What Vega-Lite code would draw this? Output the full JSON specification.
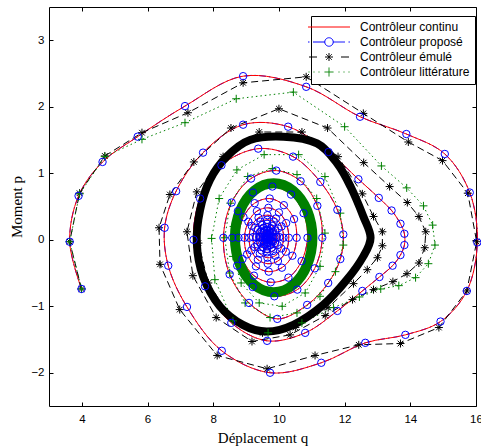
{
  "$schema": "https://vega.github.io/schema/vega-lite/v6.json",
  "width": 427,
  "height": 399,
  "autosize": "none",
  "padding": {"left": 49, "top": 7, "right": 5, "bottom": 41},
  "background": "white",
  "config": {
    "view": {"stroke": "black", "strokeWidth": 1},
    "axis": {"grid": false, "domain": false, "tickColor": "black", "tickWidth": 1, "tickSize": -4, "labelColor": "black", "labelFont": "Liberation Sans", "labelFontSize": 11.5, "titleFont": "Liberation Serif", "titleFontSize": 15, "titleFontWeight": "normal", "titleColor": "black", "labelFlush": false, "labelOverlap": false}
  },
  "datasets": {
    "cp": [
      {"t":1,"q":3.99,"p":-0.74},{"t":2,"q":3.63,"p":-0.03},{"t":3,"q":3.90,"p":0.66},{"t":4,"q":4.63,"p":1.17},{"t":5,"q":5.70,"p":1.55},{"t":6,"q":7.14,"p":2.01},{"t":7,"q":8.91,"p":2.46},{"t":8,"q":10.83,"p":2.30},{"t":9,"q":12.47,"p":1.85},{"t":10,"q":13.88,"p":1.59},
      {"t":11,"q":15.05,"p":1.29},{"t":12,"q":15.81,"p":0.71},{"t":13,"q":16.04,"p":-0.04},{"t":14,"q":15.72,"p":-0.77},{"t":15,"q":14.92,"p":-1.23},{"t":16,"q":13.85,"p":-1.43},{"t":17,"q":12.63,"p":-1.55},{"t":18,"q":11.29,"p":-1.85},{"t":19,"q":9.73,"p":-2.00},{"t":20,"q":8.26,"p":-1.67},
      {"t":21,"q":7.20,"p":-1.01},{"t":22,"q":6.63,"p":-0.39},{"t":23,"q":6.52,"p":0.18},{"t":24,"q":6.87,"p":0.73},{"t":25,"q":7.69,"p":1.31},{"t":26,"q":8.91,"p":1.73},{"t":27,"q":10.28,"p":1.70},{"t":28,"q":11.51,"p":1.32},{"t":29,"q":12.42,"p":0.91},{"t":30,"q":13.04,"p":0.63},
      {"t":31,"q":13.43,"p":0.44},{"t":32,"q":13.70,"p":0.24},{"t":33,"q":13.82,"p":0.09},{"t":34,"q":13.82,"p":-0.08},{"t":35,"q":13.70,"p":-0.23},{"t":36,"q":13.46,"p":-0.39},{"t":37,"q":13.06,"p":-0.56},{"t":38,"q":12.54,"p":-0.77},{"t":39,"q":11.78,"p":-1.07},{"t":40,"q":10.80,"p":-1.40},
      {"t":41,"q":9.64,"p":-1.52},{"t":42,"q":8.55,"p":-1.25},{"t":43,"q":7.75,"p":-0.70},{"t":44,"q":7.40,"p":0.00},{"t":45,"q":7.60,"p":0.62},{"t":46,"q":8.25,"p":1.12},{"t":47,"q":9.37,"p":1.37},{"t":48,"q":10.43,"p":1.25},{"t":49,"q":11.26,"p":0.87},{"t":50,"q":11.78,"p":0.45},
      {"t":51,"q":11.96,"p":0.08},{"t":52,"q":11.87,"p":-0.29},{"t":53,"q":11.50,"p":-0.65},{"t":54,"q":10.86,"p":-0.98},{"t":55,"q":9.95,"p":-1.19},{"t":56,"q":9.09,"p":-0.95},{"t":57,"q":8.50,"p":-0.52},{"t":58,"q":8.31,"p":0.03},{"t":59,"q":8.56,"p":0.56},{"t":60,"q":9.15,"p":0.92},
      {"t":61,"q":9.92,"p":1.04},{"t":62,"q":10.66,"p":0.88},{"t":63,"q":11.17,"p":0.51},{"t":64,"q":11.32,"p":0.03},{"t":65,"q":11.09,"p":-0.43},{"t":66,"q":10.56,"p":-0.75},{"t":67,"q":9.86,"p":-0.85},{"t":68,"q":9.20,"p":-0.71},{"t":69,"q":8.73,"p":-0.39},{"t":70,"q":8.58,"p":0.03},
      {"t":71,"q":8.75,"p":0.43},{"t":72,"q":9.21,"p":0.71},{"t":73,"q":9.80,"p":0.80},{"t":74,"q":10.37,"p":0.68},{"t":75,"q":10.75,"p":0.40},{"t":76,"q":10.87,"p":0.03},{"t":77,"q":10.69,"p":-0.32},{"t":78,"q":10.29,"p":-0.57},{"t":79,"q":9.75,"p":-0.64},{"t":80,"q":9.24,"p":-0.54},
      {"t":81,"q":8.89,"p":-0.29},{"t":82,"q":8.77,"p":0.03},{"t":83,"q":8.92,"p":0.34},{"t":84,"q":9.26,"p":0.55},{"t":85,"q":9.72,"p":0.62},{"t":86,"q":10.15,"p":0.52},{"t":87,"q":10.46,"p":0.31},{"t":88,"q":10.54,"p":0.03},{"t":89,"q":10.41,"p":-0.24},{"t":90,"q":10.09,"p":-0.42},
      {"t":91,"q":9.69,"p":-0.48},{"t":92,"q":9.30,"p":-0.40},{"t":93,"q":9.03,"p":-0.22},{"t":94,"q":8.95,"p":0.03},{"t":95,"q":9.07,"p":0.27},{"t":96,"q":9.33,"p":0.43},{"t":97,"q":9.68,"p":0.48},{"t":98,"q":10.00,"p":0.41},{"t":99,"q":10.22,"p":0.25},{"t":100,"q":10.30,"p":0.03},
      {"t":101,"q":10.21,"p":-0.18},{"t":102,"q":9.97,"p":-0.32},{"t":103,"q":9.66,"p":-0.36},{"t":104,"q":9.36,"p":-0.30},{"t":105,"q":9.16,"p":-0.16},{"t":106,"q":9.09,"p":0.03},{"t":107,"q":9.17,"p":0.21},{"t":108,"q":9.38,"p":0.33},{"t":109,"q":9.65,"p":0.37},{"t":110,"q":9.91,"p":0.32},
      {"t":111,"q":10.08,"p":0.20},{"t":112,"q":10.14,"p":0.03},{"t":113,"q":10.07,"p":-0.13},{"t":114,"q":9.89,"p":-0.24},{"t":115,"q":9.65,"p":-0.27},{"t":116,"q":9.42,"p":-0.21},{"t":117,"q":9.26,"p":-0.11},{"t":118,"q":9.21,"p":0.04},{"t":119,"q":9.28,"p":0.18},{"t":120,"q":9.44,"p":0.27},
      {"t":121,"q":9.64,"p":0.30},{"t":122,"q":9.84,"p":0.27},{"t":123,"q":9.97,"p":0.17},{"t":124,"q":10.01,"p":0.04},{"t":125,"q":9.96,"p":-0.08},{"t":126,"q":9.82,"p":-0.17},{"t":127,"q":9.64,"p":-0.19},{"t":128,"q":9.47,"p":-0.16},{"t":129,"q":9.35,"p":-0.07},{"t":130,"q":9.31,"p":0.04},
      {"t":131,"q":9.36,"p":0.15},{"t":132,"q":9.49,"p":0.22},{"t":133,"q":9.64,"p":0.24},{"t":134,"q":9.79,"p":0.21},{"t":135,"q":9.89,"p":0.14},{"t":136,"q":9.93,"p":0.04},{"t":137,"q":9.88,"p":-0.05},{"t":138,"q":9.78,"p":-0.12},{"t":139,"q":9.64,"p":-0.14},{"t":140,"q":9.51,"p":-0.11},
      {"t":141,"q":9.42,"p":-0.04},{"t":142,"q":9.40,"p":0.04},{"t":143,"q":9.43,"p":0.12},{"t":144,"q":9.53,"p":0.18},{"t":145,"q":9.64,"p":0.19},{"t":146,"q":9.75,"p":0.17},{"t":147,"q":9.83,"p":0.12},{"t":148,"q":9.86,"p":0.04},{"t":149,"q":9.82,"p":-0.03},{"t":150,"q":9.74,"p":-0.08},
      {"t":151,"q":9.64,"p":-0.10},{"t":152,"q":9.54,"p":-0.07},{"t":153,"q":9.47,"p":-0.02},{"t":154,"q":9.45,"p":0.04},{"t":155,"q":9.48,"p":0.10},{"t":156,"q":9.55,"p":0.14},{"t":157,"q":9.64,"p":0.15},{"t":158,"q":9.72,"p":0.13},{"t":159,"q":9.78,"p":0.10},{"t":160,"q":9.80,"p":0.04},
      {"t":161,"q":9.77,"p":-0.01},{"t":162,"q":9.71,"p":-0.05},{"t":163,"q":9.64,"p":-0.06},{"t":164,"q":9.57,"p":-0.04},{"t":165,"q":9.51,"p":0.04},{"t":166,"q":9.56,"p":0.11},{"t":167,"q":9.64,"p":0.13},{"t":168,"q":9.72,"p":0.10},{"t":169,"q":9.75,"p":0.04},{"t":170,"q":9.71,"p":-0.01},
      {"t":171,"q":9.64,"p":-0.03},{"t":172,"q":9.58,"p":0.01},{"t":173,"q":9.57,"p":0.06},{"t":174,"q":9.64,"p":0.10},{"t":175,"q":9.70,"p":0.07},{"t":176,"q":9.69,"p":0.02},{"t":177,"q":9.64,"p":0.00},{"t":178,"q":9.62,"p":0.03},{"t":179,"q":9.65,"p":0.05},{"t":180,"q":9.64,"p":0.04}
    ],
    "em": [
      {"t":1,"q":3.99,"p":-0.74},{"t":2,"q":3.63,"p":-0.03},{"t":3,"q":3.93,"p":0.70},{"t":4,"q":4.70,"p":1.26},{"t":5,"q":5.83,"p":1.61},{"t":6,"q":7.23,"p":1.91},{"t":7,"q":8.91,"p":2.36},{"t":8,"q":10.83,"p":2.45},{"t":9,"q":12.57,"p":1.90},{"t":10,"q":13.94,"p":1.47},
      {"t":11,"q":14.98,"p":1.19},{"t":12,"q":15.75,"p":0.70},{"t":13,"q":16.02,"p":-0.03},{"t":14,"q":15.72,"p":-0.77},{"t":15,"q":14.87,"p":-1.32},{"t":16,"q":13.70,"p":-1.56},{"t":17,"q":12.43,"p":-1.58},{"t":18,"q":11.10,"p":-1.74},{"t":19,"q":9.64,"p":-1.94},{"t":20,"q":8.12,"p":-1.74},
      {"t":21,"q":6.98,"p":-1.05},{"t":22,"q":6.38,"p":-0.37},{"t":23,"q":6.35,"p":0.18},{"t":24,"q":6.68,"p":0.68},{"t":25,"q":7.41,"p":1.17},{"t":26,"q":8.54,"p":1.68},{"t":27,"q":10.00,"p":1.97},{"t":28,"q":11.48,"p":1.68},{"t":29,"q":12.58,"p":1.16},{"t":30,"q":13.37,"p":0.80},
      {"t":31,"q":13.91,"p":0.56},{"t":32,"q":14.26,"p":0.35},{"t":33,"q":14.47,"p":0.12},{"t":34,"q":14.44,"p":-0.12},{"t":35,"q":14.26,"p":-0.35},{"t":36,"q":13.90,"p":-0.51},{"t":37,"q":13.47,"p":-0.63},{"t":38,"q":12.88,"p":-0.75},{"t":39,"q":12.24,"p":-0.90},{"t":40,"q":11.41,"p":-1.14},
      {"t":41,"q":10.34,"p":-1.43},{"t":42,"q":9.18,"p":-1.53},{"t":43,"q":8.09,"p":-1.17},{"t":44,"q":7.38,"p":-0.54},{"t":45,"q":7.20,"p":0.12},{"t":46,"q":7.50,"p":0.72},{"t":47,"q":8.30,"p":1.25},{"t":48,"q":9.40,"p":1.62},{"t":49,"q":10.70,"p":1.62},{"t":50,"q":11.80,"p":1.25},
      {"t":51,"q":12.54,"p":0.69},{"t":52,"q":12.88,"p":0.35},{"t":53,"q":13.15,"p":0.12},{"t":54,"q":13.15,"p":-0.09},{"t":55,"q":13.00,"p":-0.27},{"t":56,"q":12.69,"p":-0.45},{"t":57,"q":12.27,"p":-0.66},{"t":58,"q":11.50,"p":-1.02},{"t":59,"q":10.50,"p":-1.32},{"t":60,"q":9.50,"p":-1.40},
      {"t":61,"q":8.55,"p":-1.18},{"t":62,"q":7.85,"p":-0.65},{"t":63,"q":7.55,"p":-0.05}
    ],
    "li": [
      {"t":1,"q":3.99,"p":-0.74},{"t":2,"q":3.63,"p":-0.03},{"t":3,"q":3.93,"p":0.69},{"t":4,"q":4.70,"p":1.25},{"t":5,"q":5.83,"p":1.51},{"t":6,"q":7.14,"p":1.76},{"t":7,"q":8.70,"p":2.12},{"t":8,"q":10.44,"p":2.22},{"t":9,"q":12.00,"p":1.70},{"t":10,"q":13.12,"p":1.11},
      {"t":11,"q":13.89,"p":0.78},{"t":12,"q":14.40,"p":0.51},{"t":13,"q":14.68,"p":0.22},{"t":14,"q":14.75,"p":-0.08},{"t":15,"q":14.55,"p":-0.36},{"t":16,"q":14.16,"p":-0.57},{"t":17,"q":13.65,"p":-0.69},{"t":18,"q":13.10,"p":-0.74},{"t":19,"q":12.45,"p":-0.86},{"t":20,"q":11.66,"p":-1.02},
      {"t":21,"q":10.70,"p":-1.25},{"t":22,"q":9.67,"p":-1.40},{"t":23,"q":8.60,"p":-1.22},{"t":24,"q":8.05,"p":-0.60},{"t":25,"q":7.95,"p":0.02},{"t":26,"q":8.18,"p":0.62},{"t":27,"q":8.72,"p":1.05},{"t":28,"q":9.55,"p":1.28},{"t":29,"q":10.60,"p":1.28},{"t":30,"q":11.40,"p":0.95},
      {"t":31,"q":11.87,"p":0.40},{"t":32,"q":11.96,"p":-0.08},{"t":33,"q":11.72,"p":-0.48},{"t":34,"q":11.25,"p":-0.85},{"t":35,"q":10.55,"p":-1.10},{"t":36,"q":9.73,"p":-1.17},{"t":37,"q":8.97,"p":-0.95},{"t":38,"q":8.50,"p":-0.50},{"t":39,"q":8.35,"p":0.03},{"t":40,"q":8.52,"p":0.55},
      {"t":41,"q":9.05,"p":0.95},{"t":42,"q":9.80,"p":1.07},{"t":43,"q":10.55,"p":0.98},{"t":44,"q":11.15,"p":0.62},{"t":45,"q":11.40,"p":0.10},{"t":46,"q":11.25,"p":-0.40},{"t":47,"q":10.80,"p":-0.80},{"t":48,"q":10.10,"p":-1.00},{"t":49,"q":9.40,"p":-0.95},{"t":50,"q":8.85,"p":-0.65},
      {"t":51,"q":8.60,"p":-0.25},{"t":52,"q":8.62,"p":0.20}
    ],
    "ringE": [
      {"t":1,"q":10.14,"p":1.55},{"t":2,"q":11.16,"p":1.45},{"t":3,"q":11.77,"p":1.15},{"t":4,"q":12.18,"p":0.80},{"t":5,"q":12.57,"p":0.35},{"t":6,"q":12.79,"p":0.03},{"t":7,"q":12.57,"p":-0.25},{"t":8,"q":12.07,"p":-0.60},{"t":9,"q":11.35,"p":-0.98},{"t":10,"q":10.44,"p":-1.28},
      {"t":11,"q":9.63,"p":-1.38},{"t":12,"q":8.90,"p":-1.28},{"t":13,"q":8.20,"p":-1.00},{"t":14,"q":7.69,"p":-0.55},{"t":15,"q":7.50,"p":-0.05},{"t":16,"q":7.60,"p":0.45},{"t":17,"q":7.90,"p":0.90},{"t":18,"q":8.41,"p":1.25},{"t":19,"q":9.12,"p":1.50}
    ],
    "ringL": [
      {"t":1,"q":9.84,"p":0.85},{"t":2,"q":10.43,"p":0.74},{"t":3,"q":10.86,"p":0.44},{"t":4,"q":11.02,"p":0.03},{"t":5,"q":10.86,"p":-0.38},{"t":6,"q":10.43,"p":-0.68},{"t":7,"q":9.84,"p":-0.79},{"t":8,"q":9.25,"p":-0.68},{"t":9,"q":8.82,"p":-0.38},{"t":10,"q":8.66,"p":0.03},
      {"t":11,"q":8.82,"p":0.44},{"t":12,"q":9.25,"p":0.74}
    ]
  },
  "resolve": {"axis": {"x": "independent", "y": "independent"}},
  "layer": [
    {
      "data": {"name": "cp"},
      "mark": {"type": "line", "interpolate": "catmull-rom", "strokeWidth": 1, "strokeDash": [7, 3, 1.5, 3]},
      "encoding": {
        "x": {"field": "q", "type": "quantitative", "scale": {"domain": [3, 16], "nice": false, "zero": false},
              "axis": {"orient": "bottom", "values": [4, 6, 8, 10, 12, 14, 16], "title": "Déplacement q", "labelPadding": 11, "titleY": 36, "titleBaseline": "alphabetic"}},
        "y": {"field": "p", "type": "quantitative", "scale": {"domain": [-2.5, 3.5], "nice": false, "zero": false},
              "axis": {"orient": "left", "values": [-2, -1, 0, 1, 2, 3], "title": "Moment p", "labelPadding": 9, "titleX": -28, "titleBaseline": "alphabetic"}},
        "order": {"field": "t", "type": "quantitative"},
        "color": {"datum": "Contrôleur proposé", "type": "nominal",
          "scale": {"domain": ["Contrôleur continu", "Contrôleur proposé", "Contrôleur émulé", "Contrôleur littérature"], "range": ["#ff0000", "#0000ff", "#000000", "#008000"]},
          "legend": {
            "title": null, "orient": "none", "legendX": 262, "legendY": 9, "padding": 5, "rowPadding": 2,
            "strokeColor": "black", "fillColor": "white", "cornerRadius": 0,
            "labelFont": "Liberation Sans", "labelFontSize": 12, "labelColor": "black", "labelLimit": 300,
            "symbolSize": 100, "symbolStrokeWidth": 1, "symbolOffset": 7, "labelOffset": 25, "symbolDash": [1, 0],
            "encode": {"symbols": {"update": {
              "fill": {"value": "transparent"},
              "strokeDash": {"value": [1, 0]},
              "shape": {"signal": "datum.value === 'Contrôleur continu' ? 'M-4.2,0L4.2,0' : datum.value === 'Contrôleur proposé' ? 'M-4.2,0L-3.9,0M-3.2,0L-0.85,0M0.85,0L3.2,0M3.9,0L4.2,0M-0.85,0A0.85,0.85,0,1,0,0.85,0A0.85,0.85,0,1,0,-0.85,0' : datum.value === 'Contrôleur émulé' ? 'M-4,0L-2.4,0M2.4,0L4,0M-0.8,0L0.8,0M0,-0.8L0,0.8M-0.57,-0.57L0.57,0.57M-0.57,0.57L0.57,-0.57' : 'M-4.1,0L-3.9,0M-3.1,0L-2.9,0M-2.1,0L-1.9,0M1.9,0L2.1,0M2.9,0L3.1,0M3.9,0L4.1,0M-0.9,0L0.9,0M0,-0.9L0,0.9'"}
            }}}
          }}
      }
    },
    {
      "data": {"name": "cp"},
      "mark": {"type": "line", "interpolate": "catmull-rom", "strokeWidth": 1},
      "encoding": {
        "x": {"field": "q", "type": "quantitative", "scale": {"domain": [3, 16], "nice": false, "zero": false},
              "axis": {"orient": "top", "values": [4, 6, 8, 10, 12, 14, 16], "labels": false, "title": null}},
        "y": {"field": "p", "type": "quantitative", "scale": {"domain": [-2.5, 3.5], "nice": false, "zero": false},
              "axis": {"orient": "right", "values": [-2, -1, 0, 1, 2, 3], "labels": false, "title": null}},
        "order": {"field": "t", "type": "quantitative"},
        "color": {"datum": "Contrôleur continu", "type": "nominal"}
      }
    },
    {
      "data": {"name": "em"},
      "mark": {"type": "line", "interpolate": "linear", "strokeWidth": 1, "strokeDash": [7, 4]},
      "encoding": {
        "x": {"field": "q", "type": "quantitative", "axis": null},
        "y": {"field": "p", "type": "quantitative", "axis": null},
        "order": {"field": "t", "type": "quantitative"},
        "color": {"datum": "Contrôleur émulé", "type": "nominal"}
      }
    },
    {
      "data": {"name": "li"},
      "mark": {"type": "line", "interpolate": "linear", "strokeWidth": 1, "strokeDash": [1.5, 3]},
      "encoding": {
        "x": {"field": "q", "type": "quantitative", "axis": null},
        "y": {"field": "p", "type": "quantitative", "axis": null},
        "order": {"field": "t", "type": "quantitative"},
        "color": {"datum": "Contrôleur littérature", "type": "nominal"}
      }
    },
    {
      "data": {"name": "ringE"},
      "mark": {"type": "line", "interpolate": "cardinal-closed", "strokeWidth": 8, "color": "#000000"},
      "encoding": {
        "x": {"field": "q", "type": "quantitative", "axis": null},
        "y": {"field": "p", "type": "quantitative", "axis": null},
        "order": {"field": "t", "type": "quantitative"}
      }
    },
    {
      "data": {"name": "ringL"},
      "mark": {"type": "line", "interpolate": "cardinal-closed", "strokeWidth": 10, "color": "#008000"},
      "encoding": {
        "x": {"field": "q", "type": "quantitative", "axis": null},
        "y": {"field": "p", "type": "quantitative", "axis": null},
        "order": {"field": "t", "type": "quantitative"}
      }
    },
    {
      "data": {"name": "em"},
      "mark": {"type": "point", "shape": "M-1,0L1,0M0,-1L0,1M-0.7,-0.7L0.7,0.7M-0.7,0.7L0.7,-0.7", "filled": false, "stroke": "#000000", "strokeWidth": 1, "size": 64, "opacity": 1},
      "encoding": {
        "x": {"field": "q", "type": "quantitative", "axis": null},
        "y": {"field": "p", "type": "quantitative", "axis": null}
      }
    },
    {
      "data": {"name": "li"},
      "mark": {"type": "point", "shape": "M-1,0L1,0M0,-1L0,1", "filled": false, "stroke": "#008000", "strokeWidth": 1, "size": 64, "opacity": 1},
      "encoding": {
        "x": {"field": "q", "type": "quantitative", "axis": null},
        "y": {"field": "p", "type": "quantitative", "axis": null}
      }
    },
    {
      "data": {"name": "cp"},
      "mark": {"type": "point", "shape": "circle", "filled": false, "stroke": "#0000ff", "strokeWidth": 1, "size": 55, "opacity": 1},
      "encoding": {
        "x": {"field": "q", "type": "quantitative", "axis": null},
        "y": {"field": "p", "type": "quantitative", "axis": null}
      }
    }
  ]
}
